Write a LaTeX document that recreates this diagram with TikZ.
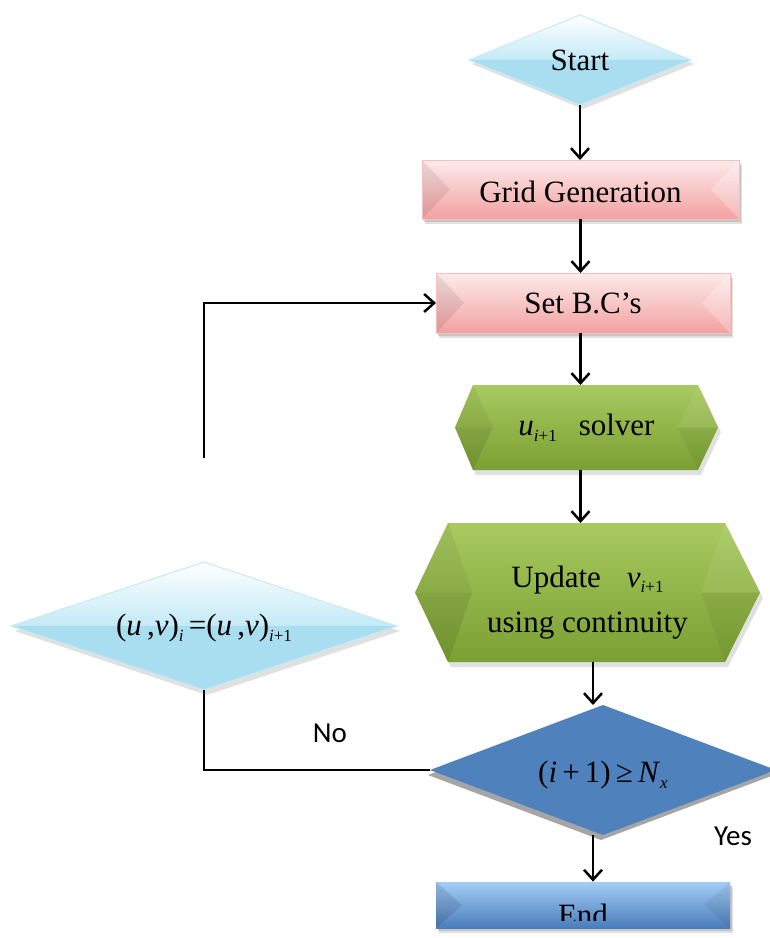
\documentclass[tikz,border=0pt]{standalone}
\usepackage{fontspec}
\setmainfont{Liberation Serif}
\newfontfamily\labelfont{Carlito}
\usetikzlibrary{arrows.meta,calc}
\definecolor{lbtop}{HTML}{FFFFFF}
\definecolor{lbmid}{HTML}{C3EAF7}
\definecolor{lblow}{HTML}{A9DEF1}
\definecolor{lbedge}{HTML}{C8EAF5}
\definecolor{pk1}{HTML}{FDEBEB}
\definecolor{pk2}{HTML}{F9BFBF}
\definecolor{pk3}{HTML}{F3A0A0}
\definecolor{gr1}{HTML}{A8CA60}
\definecolor{gr2}{HTML}{93B947}
\definecolor{gr3}{HTML}{7B9F32}
\definecolor{dblue}{HTML}{4F81BD}
\definecolor{eb1}{HTML}{A3CDF6}
\definecolor{eb3}{HTML}{4A7DBB}
\definecolor{shgray}{HTML}{A5A5A5}
\newcommand{\mysb}[1]{\raisebox{-0.42ex}{\fontsize{8.5}{9}\selectfont #1}}
\newcommand{\lowerby}[2]{\raisebox{0pt}[\dimexpr\height+#1\relax]{#2}}
\begin{document}
\begin{tikzpicture}[x=0.5pt,y=-0.5pt,
  arr/.style={line width=1.25pt,-{Straight Barb[length=5pt,width=9pt,line width=1.25pt]}},
  conn/.style={line width=1.25pt},
  txt/.style={inner sep=0pt,outer sep=0pt,font=\fontsize{15.5}{22.5}\selectfont,align=center},
  lbl/.style={font=\labelfont\fontsize{14.5}{16}\selectfont,inner sep=0pt},
  soft/.style={fill=black,opacity=0.12},
]
\clip (0,0) rectangle (770,938);
\fill[white] (0,0) rectangle (770,938);

% ---------- Start diamond ----------
\fill[soft] (472,64)--(583,19)--(694,64)--(583,109)--cycle;
\shade[top color=lbtop,bottom color=lbmid] (469,60)--(580,15)--(691,60)--cycle;
\fill[lblow] (469,60)--(691,60)--(580,105)--cycle;
\draw[lbedge,line width=0.5pt] (469,60)--(580,15)--(691,60)--(580,105)--cycle;
\node[txt,minimum width=111pt,minimum height=45pt] (start) at (580,60) {Start};

% ---------- Grid Generation ----------
\fill[soft] (425,165) rectangle (742,224);
\fill[soft] (424,163) rectangle (741,222);
\shade[top color=pk1,middle color=pk2,bottom color=pk3] (422,160) rectangle (739,219);
\fill[black,opacity=.08] (422,160)--(450,189.5)--(422,219)--cycle;
\fill[white,opacity=.25] (739,160)--(711,189.5)--(739,219)--cycle;
\draw[pk2,line width=0.4pt] (422,160) rectangle (739,219);
\node[txt,minimum width=158.5pt,minimum height=29.5pt] (grid) at (580.5,189.5) {\lowerby{2pt}{Grid Generation}};

% ---------- Set B.C's ----------
\fill[soft] (439,278) rectangle (733,338);
\fill[soft] (438,276) rectangle (732,336);
\shade[top color=pk1,middle color=pk2,bottom color=pk3] (436,273) rectangle (730,333);
\fill[black,opacity=.08] (436,273)--(464,303)--(436,333)--cycle;
\fill[white,opacity=.25] (730,273)--(702,303)--(730,333)--cycle;
\draw[pk2,line width=0.4pt] (436,273) rectangle (730,333);
\node[txt,minimum width=147pt,minimum height=30pt] (setbc) at (583,303) {Set B.C's};

% ---------- u solver hexagon ----------
\fill[soft] (458,432.5)--(476,390)--(701,390)--(721,432.5)--(701,475)--(476,475)--cycle;
\shade[top color=gr1,middle color=gr2,bottom color=gr3] (455,427.5)--(473,385)--(698,385)--(718,427.5)--(698,470)--(473,470)--cycle;
\fill[black,opacity=.05] (455,427.5)--(473,385)--(493,427.5)--cycle;
\fill[black,opacity=.09] (455,427.5)--(473,470)--(493,427.5)--cycle;
\fill[white,opacity=.07] (718,427.5)--(698,385)--(678,427.5)--cycle;
\fill[black,opacity=.05] (718,427.5)--(698,470)--(678,427.5)--cycle;
\node[txt,minimum width=131.5pt,minimum height=42.5pt] (hexa) at (586.5,427.5)
  {\textit{u}\mysb{\textit{i}+1}\hspace{11pt}solver};

% ---------- Update hexagon ----------
\fill[soft] (418,598)--(451,528)--(728,528)--(763,598)--(728,667)--(451,667)--cycle;
\shade[top color=gr1,middle color=gr2,bottom color=gr3] (415,592.5)--(448,523)--(725,523)--(760,592.5)--(725,662)--(448,662)--cycle;
\fill[black,opacity=.05] (415,592.5)--(448,523)--(472,592.5)--cycle;
\fill[black,opacity=.09] (415,592.5)--(448,662)--(472,592.5)--cycle;
\fill[white,opacity=.07] (760,592.5)--(725,523)--(701,592.5)--cycle;
\fill[black,opacity=.05] (760,592.5)--(725,662)--(701,592.5)--cycle;
\node[txt,minimum width=172.5pt,minimum height=69.5pt] (upd) at (587.5,592.5)
  {\lowerby{8pt}{\begin{tabular}{@{}c@{}}Update\hspace{13pt}\textit{v}\mysb{\textit{i}+1}\\using continuity\end{tabular}}};

% ---------- convergence diamond ----------
\fill[soft] (15,631)--(207,567)--(400,631)--(207,695)--cycle;
\shade[top color=lbtop,bottom color=lbmid] (11,626)--(204,562)--(397,626)--cycle;
\fill[lblow] (11,626)--(397,626)--(204,690)--cycle;
\draw[lbedge,line width=0.5pt] (11,626)--(204,562)--(397,626)--(204,690)--cycle;
\node[txt,minimum width=193pt,minimum height=64pt] (conv) at (204,626)
  {\lowerby{2pt}{(\textit{u}\,,\textit{v})\mysb{\textit{i}}\,=(\textit{u}\,,\textit{v})\mysb{\textit{i}+1}}};

% ---------- decision diamond ----------
\fill[shgray] (428,775)--(601,710)--(774,775)--(601,840)--cycle;
\fill[dblue] (430,770)--(603,705)--(776,770)--(603,835)--cycle;
\node[txt,minimum width=173pt,minimum height=65pt] (dec) at (603,770)
  {\lowerby{5pt}{(\textit{i}\,+\,1)\,≥\,\textit{N}\mysb{\textit{x}}}};

% ---------- End ----------
\fill[soft] (439,887) rectangle (733,933);
\fill[soft] (438,885) rectangle (732,931);
\shade[top color=eb1,bottom color=eb3] (436,882) rectangle (730,928);
\fill[black,opacity=.10] (436,882)--(462,905)--(436,928)--cycle;
\fill[black,opacity=.06] (730,882)--(704,905)--(730,928)--cycle;
\node[inner sep=0pt,minimum width=147pt,minimum height=23pt] (endn) at (583,905) {};
\begin{scope}
\clip (436,882) rectangle (730,920);
\node[txt,anchor=base] (endtxt) at (583,925) {End};
\end{scope}

% ---------- labels ----------
\node[lbl,fill=white,minimum width=40pt,minimum height=28pt] (yes) at (733,836) {Yes};
\node[lbl] (no) at (330,733) {No};

% ---------- connectors ----------
\coordinate (a5) at ($(upd.south)+(5.5,0)$);
\coordinate (a6) at ($(dec.south)+(-10,0)$);
\coordinate (fb) at (204,458);
\draw[arr] (start.south) -- (start.south |- grid.north);
\draw[arr] (grid.south) -- (grid.south |- setbc.north);
\draw[arr] (setbc.south -| grid.south) -- (grid.south |- hexa.north);
\draw[arr] (hexa.south -| grid.south) -- (grid.south |- upd.north);
\draw[arr] (a5) -- (a5 |- dec.north);
\draw[arr] (a6) -- (a6 |- endn.north);
\draw[conn] (dec.west) -- (dec.west -| conv.south) -- (conv.south);
\draw[arr] (fb) |- (setbc.west);
\end{tikzpicture}
\end{document}
